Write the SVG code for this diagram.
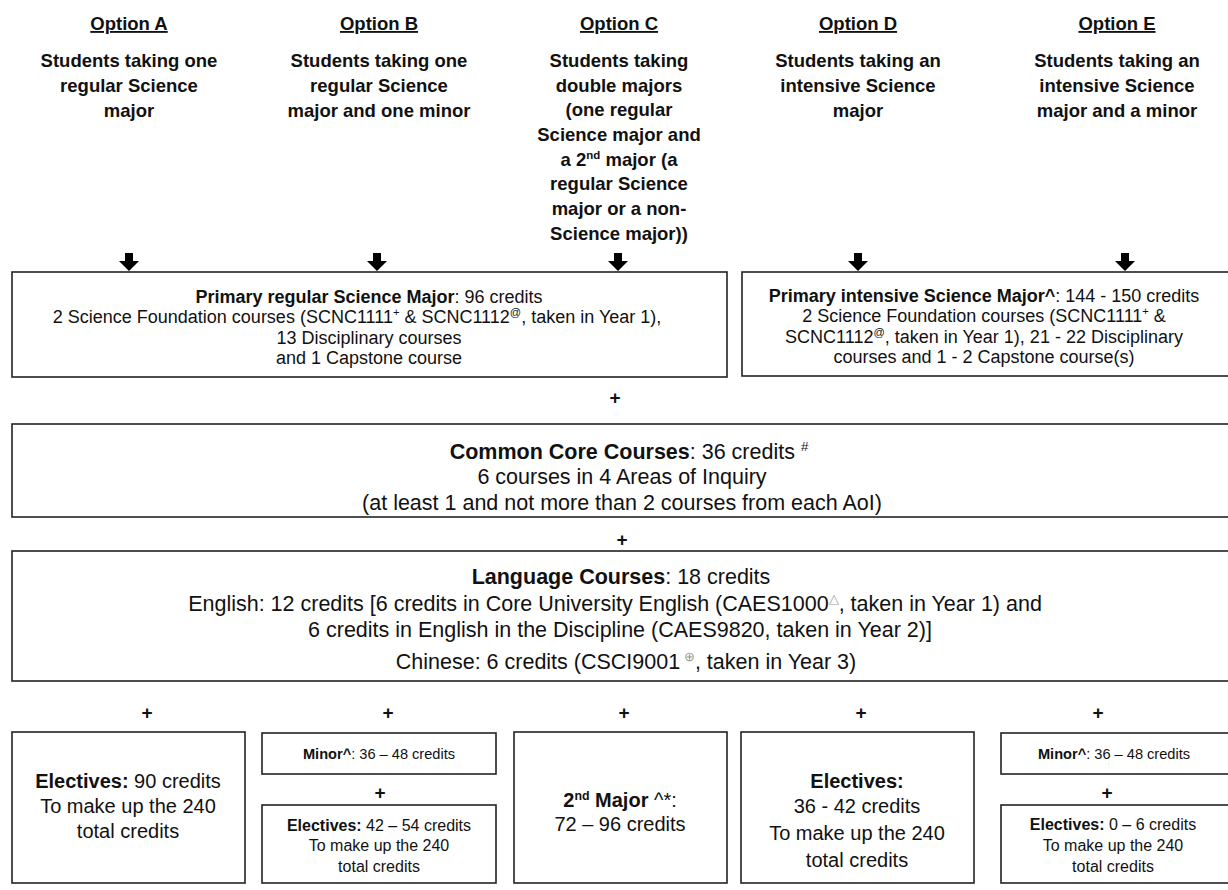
<svg xmlns="http://www.w3.org/2000/svg" width="1228" height="890" viewBox="0 0 1228 890">
<style>
text{font-family:"Liberation Sans",Arial,sans-serif;fill:#111;text-anchor:middle}
.h{font-size:18.5px;font-weight:bold;text-decoration:underline}
.d{font-size:18.5px;font-weight:bold}
.p{font-size:18px}
.c{font-size:21.5px}
.e{font-size:20px}
.b{font-weight:bold}
.s{font-size:14.6px}
.m{font-size:16px}
.box{fill:#fff;stroke:#222;stroke-width:1.6}
.plus{font-size:19px;font-weight:bold}
.sup{font-size:0.62em}
.g{fill:#999}
</style>
<defs>
<path id="arr" d="M-4,-17 H4 V-9 H10 L0,1 L-10,-9 H-4 Z" fill="#000"/>
</defs>
<g id="headers">
<g id="optA"><text class="h" x="129" y="30">Option A</text>
<text class="d" x="129" y="67">Students taking one</text><text class="d" x="129" y="92">regular Science</text><text class="d" x="129" y="117">major</text></g>
<g id="optB"><text class="h" x="379" y="30">Option B</text>
<text class="d" x="379" y="67">Students taking one</text><text class="d" x="379" y="92">regular Science</text><text class="d" x="379" y="117">major and one minor</text></g>
<g id="optC"><text class="h" x="619" y="30">Option C</text>
<text class="d" x="619" y="67">Students taking</text><text class="d" x="619" y="92">double majors</text><text class="d" x="619" y="116">(one regular</text><text class="d" x="619" y="141">Science major and</text><text class="d" x="619" y="166">a 2<tspan class="sup" dy="-7">nd</tspan><tspan dy="7"> major (a</tspan></text><text class="d" x="619" y="190">regular Science</text><text class="d" x="619" y="215">major or a non-</text><text class="d" x="619" y="240">Science major))</text></g>
<g id="optD"><text class="h" x="858" y="30">Option D</text>
<text class="d" x="858" y="67">Students taking an</text><text class="d" x="858" y="92">intensive Science</text><text class="d" x="858" y="117">major</text></g>
<g id="optE"><text class="h" x="1117" y="30">Option E</text>
<text class="d" x="1117" y="67">Students taking an</text><text class="d" x="1117" y="92">intensive Science</text><text class="d" x="1117" y="117">major and a minor</text></g>
</g>
<g id="connectors">
<use href="#arr" x="129" y="270"/>
<use href="#arr" x="377" y="270"/>
<use href="#arr" x="618" y="270"/>
<use href="#arr" x="858" y="270"/>
<use href="#arr" x="1125" y="270"/>
<text class="plus" x="615" y="404">+</text>
<text class="plus" x="622" y="546">+</text>
<text class="plus" x="147" y="719">+</text>
<text class="plus" x="388" y="719">+</text>
<text class="plus" x="624" y="719">+</text>
<text class="plus" x="861" y="719">+</text>
<text class="plus" x="1098" y="719">+</text>
<text class="plus" x="380" y="799">+</text>
<text class="plus" x="1107" y="799">+</text>
</g>
<g id="primaryRegular">
<rect class="box" x="12" y="272" width="715" height="105"/>
<text class="p" x="369" y="303"><tspan class="b">Primary regular Science Major</tspan>: 96 credits</text>
<text class="p" x="357" y="323">2 Science Foundation courses (SCNC1111<tspan class="sup" dy="-7">+</tspan><tspan dy="7"> &amp; SCNC1112</tspan><tspan class="sup" dy="-7">@</tspan><tspan dy="7">, taken in Year 1),</tspan></text>
<text class="p" x="369" y="344">13 Disciplinary courses</text>
<text class="p" x="369" y="364">and 1 Capstone course</text>
</g>
<g id="primaryIntensive">
<rect class="box" x="742" y="272" width="495" height="104"/>
<text class="p" x="984" y="302"><tspan class="b">Primary intensive Science Major^</tspan>: 144 - 150 credits</text>
<text class="p" x="984" y="322">2 Science Foundation courses (SCNC1111<tspan class="sup" dy="-7">+</tspan><tspan dy="7"> &amp;</tspan></text>
<text class="p" x="984" y="343">SCNC1112<tspan class="sup" dy="-7">@</tspan><tspan dy="7">, taken in Year 1), 21 - 22 Disciplinary</tspan></text>
<text class="p" x="984" y="363">courses and 1 - 2 Capstone course(s)</text>
</g>
<g id="commonCore">
<rect class="box" x="12" y="424" width="1225" height="93"/>
<text class="c" x="629" y="459"><tspan class="b">Common Core Courses</tspan>: 36 credits <tspan class="sup" dy="-8">#</tspan></text>
<text class="c" x="622" y="484">6 courses in 4 Areas of Inquiry</text>
<text class="c" x="622" y="510">(at least 1 and not more than 2 courses from each AoI)</text>
</g>
<g id="language">
<rect class="box" x="12" y="551" width="1225" height="130"/>
<text class="c" x="621" y="584"><tspan class="b">Language Courses</tspan>: 18 credits</text>
<text class="c" x="615" y="611">English: 12 credits [6 credits in Core University English (CAES1000<tspan class="sup g" dy="-8">△</tspan><tspan dy="8">, taken in Year 1) and</tspan></text>
<text class="c" x="620" y="637">6 credits in English in the Discipline (CAES9820, taken in Year 2)]</text>
<text class="c" x="626" y="669">Chinese: 6 credits (CSCI9001<tspan class="sup g" dy="-8"> ⊕</tspan><tspan dy="8">, taken in Year 3)</tspan></text>
</g>
<g id="electivesA">
<rect class="box" x="12" y="732" width="233" height="151"/>
<text class="e" x="128" y="788"><tspan class="b">Electives:</tspan> 90 credits</text>
<text class="e" x="128" y="813">To make up the 240</text>
<text class="e" x="128" y="838">total credits</text>
</g>
<g id="minorB">
<rect class="box" x="262" y="733" width="234" height="41"/>
<text class="s" x="379" y="759"><tspan class="b">Minor^</tspan>: 36 – 48 credits</text>
</g>
<g id="electivesB">
<rect class="box" x="262" y="805" width="234" height="78"/>
<text class="m" x="379" y="831"><tspan class="b">Electives:</tspan> 42 – 54 credits</text>
<text class="m" x="379" y="851">To make up the 240</text>
<text class="m" x="379" y="872">total credits</text>
</g>
<g id="secondMajorC">
<rect class="box" x="514" y="732" width="213" height="151"/>
<text class="e" x="620" y="807"><tspan class="b">2<tspan class="sup" dy="-7">nd</tspan><tspan dy="7"> Major</tspan></tspan> ^*:</text>
<text class="e" x="620" y="831">72 – 96 credits</text>
</g>
<g id="electivesD">
<rect class="box" x="741" y="732" width="233" height="151"/>
<text class="e" x="857" y="788" font-weight="bold">Electives:</text>
<text class="e" x="857" y="813">36 - 42 credits</text>
<text class="e" x="857" y="840">To make up the 240</text>
<text class="e" x="857" y="867">total credits</text>
</g>
<g id="minorE">
<rect class="box" x="1001" y="733" width="235" height="41"/>
<text class="s" x="1114" y="759"><tspan class="b">Minor^</tspan>: 36 – 48 credits</text>
</g>
<g id="electivesE">
<rect class="box" x="1001" y="805" width="235" height="78"/>
<text class="m" x="1113" y="830"><tspan class="b">Electives:</tspan> 0 – 6 credits</text>
<text class="m" x="1113" y="851">To make up the 240</text>
<text class="m" x="1113" y="872">total credits</text>
</g>
</svg>
